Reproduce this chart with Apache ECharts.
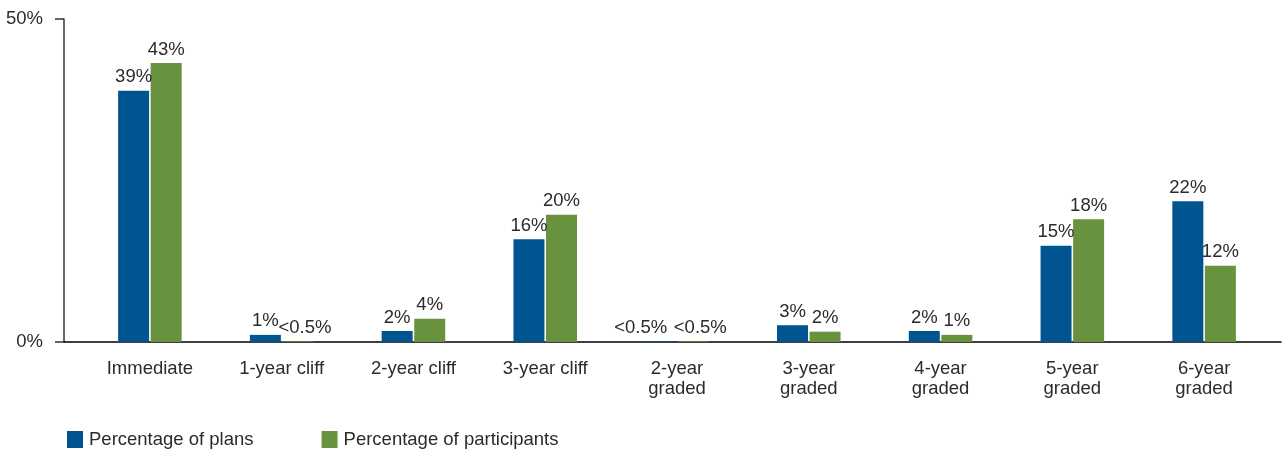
<!DOCTYPE html>
<html>
<head>
<meta charset="utf-8">
<script src="https://cdn.jsdelivr.net/npm/echarts@6/dist/echarts.min.js"></script>
<style>
  html, body { margin: 0; padding: 0; background: #fff; }
  #main { width: 1282px; height: 451px; }
</style>
</head>
<body>
<div id="main"></div>
<script>
// data
var categories = ['Immediate', '1-year cliff', '2-year cliff', '3-year cliff', '2-year\ngraded',
                  '3-year\ngraded', '4-year\ngraded', '5-year\ngraded', '6-year\ngraded'];
var plansValues = [38.9, 1.1, 1.7, 15.9, 0.1, 2.6, 1.7, 14.9, 21.8];
var partValues  = [43.2, 0.1, 3.6, 19.7, 0.1, 1.6, 1.1, 19.0, 11.8];
var plansLabels = ['39%', '1%', '2%', '16%', '<0.5%', '3%', '2%', '15%', '22%'];
var partLabels  = ['43%', '<0.5%', '4%', '20%', '<0.5%', '2%', '1%', '18%', '12%'];
var yTicks = [0, 50];

var FONT = 'Liberation Sans';
var FS = 18.5;
var TEXT = '#2b2b2b';

function buildData(values, labels, shift) {
  return values.map(function (v, i) {
    var item = { value: v };
    if (labels[i] === '<0.5%') {
      item.label = { offset: [shift, 0] };
    }
    return item;
  });
}

var myChart = echarts.init(document.getElementById('main'));
var option = {
  animation: false,
  textStyle: { fontFamily: FONT },
  grid: [
    { left: 64, top: 19, width: 1217, height: 323 },   // axis frame
    { left: 84, top: 19, width: 1186, height: 323 }    // bars
  ],
  legend: {
    left: 67, top: 430, padding: 0,
    itemWidth: 16, itemHeight: 17, itemGap: 68,
    icon: 'rect',
    textStyle: { fontSize: FS, color: TEXT, fontFamily: FONT, padding: [0, 0, 0, 1] },
    data: ['Percentage of plans', 'Percentage of participants']
  },
  xAxis: [
    {
      gridIndex: 0, type: 'value', min: 0, max: 1,
      axisLine: { show: true, lineStyle: { color: '#000', width: 1.5 } },
      axisTick: { show: false }, axisLabel: { show: false }, splitLine: { show: false }
    },
    {
      gridIndex: 1, type: 'category', data: categories,
      axisLine: { show: false }, axisTick: { show: false },
      axisLabel: { interval: 0, margin: 17, fontSize: FS, lineHeight: 20, color: TEXT, fontFamily: FONT }
    }
  ],
  yAxis: [
    {
      gridIndex: 0, type: 'value', min: yTicks[0], max: yTicks[1], interval: yTicks[1] - yTicks[0],
      axisLine: { show: true, lineStyle: { color: '#333', width: 1.5 } },
      axisTick: { show: true, length: 9, lineStyle: { color: '#333', width: 1.5 } },
      axisLabel: { margin: 21, fontSize: FS, color: TEXT, fontFamily: FONT, formatter: '{value}%' },
      splitLine: { show: false }
    },
    {
      gridIndex: 1, type: 'value', min: yTicks[0], max: yTicks[1], show: false
    }
  ],
  series: [
    {
      name: 'Percentage of plans', type: 'bar', xAxisIndex: 1, yAxisIndex: 1,
      barWidth: 31, barGap: '5%',
      itemStyle: { color: '#005591' },
      label: {
        show: true, position: 'top', distance: 4, fontSize: FS, color: TEXT, fontFamily: FONT,
        formatter: function (p) { return plansLabels[p.dataIndex]; }
      },
      data: buildData(plansValues, plansLabels, -20)
    },
    {
      name: 'Percentage of participants', type: 'bar', xAxisIndex: 1, yAxisIndex: 1,
      barWidth: 31, barGap: '5%',
      itemStyle: { color: '#68923e' },
      label: {
        show: true, position: 'top', distance: 4, fontSize: FS, color: TEXT, fontFamily: FONT,
        formatter: function (p) { return partLabels[p.dataIndex]; }
      },
      data: buildData(partValues, partLabels, 7)
    }
  ]
};
myChart.setOption(option);
</script>
</body>
</html>
